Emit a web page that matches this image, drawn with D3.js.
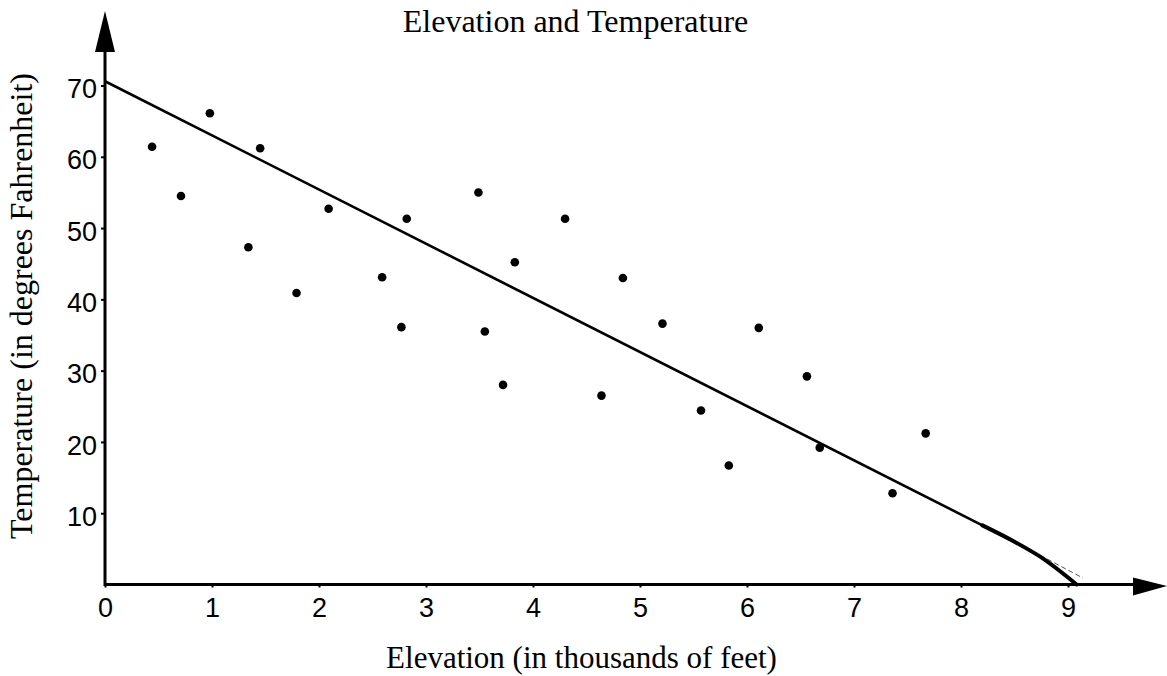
<!DOCTYPE html>
<html>
<head>
<meta charset="utf-8">
<script src="https://cdn.jsdelivr.net/npm/d3@7/dist/d3.min.js"></script>
<style>
  html, body { margin: 0; padding: 0; background: #fff; }
  svg { display: block; }
</style>
</head>
<body>
<svg id="chart" width="1167" height="676"></svg>
<script>
// ---- data ----
const elevation   = [0.44, 0.71, 0.98, 1.34, 1.45, 1.79, 2.09, 2.59, 2.77, 2.82, 3.49, 3.55, 3.72, 3.83, 4.30, 4.64, 4.84, 5.21, 5.57, 5.83, 6.11, 6.56, 6.68, 7.36, 7.67];
const temperature = [61.4, 54.5, 66.1, 47.3, 61.2, 40.9, 52.7, 43.1, 36.1, 51.3, 55.0, 35.5, 28.0, 45.2, 51.3, 26.5, 43.0, 36.6, 24.4, 16.7, 36.0, 29.2, 19.2, 12.8, 21.2];
// best-fit line as drawn (straight part, hand-drawn bend to axis, faint dashed extension)
const fitX  = [0, 8.2];
const fitY  = [70.6, 8.3];
const bendX = [8.2, 8.5, 8.74, 9.08];
const bendY = [8.3, 6.0, 3.9, 0];
const dashX = [8.74, 9.14];
const dashY = [4.1, 0.9];
const xTicks = [0, 1, 2, 3, 4, 5, 6, 7, 8, 9];
const yTicks = [10, 20, 30, 40, 50, 60, 70];
const title  = "Elevation and Temperature";
const xTitle = "Elevation (in thousands of feet)";
const yTitle = "Temperature (in degrees Fahrenheit)";

// ---- layout ----
const svg = d3.select("#chart");
const x = d3.scaleLinear().domain([0, 9]).range([105, 1068]);
const y = d3.scaleLinear().domain([0, 70]).range([584.5, 85.5]);
const serif = "'Liberation Serif', 'Times New Roman', serif";
const sans  = "'Liberation Sans', Arial, sans-serif";

// title
svg.append("text").attr("x", 575.5).attr("y", 32)
  .attr("text-anchor", "middle").attr("font-family", serif).attr("font-size", 32)
  .attr("fill", "#000").text(title);

// axes lines with arrows
const axisColor = "#000";
svg.append("line").attr("x1", x(0)).attr("y1", y(0) + 1.5).attr("x2", x(0)).attr("y2", 50)
  .attr("stroke", axisColor).attr("stroke-width", 3);
svg.append("path").attr("d", `M${x(0)},11 L${x(0)-10},52 L${x(0)+10},52 Z`).attr("fill", axisColor);
svg.append("line").attr("x1", x(0)).attr("y1", y(0)).attr("x2", 1135).attr("y2", y(0))
  .attr("stroke", axisColor).attr("stroke-width", 3);
svg.append("path").attr("d", `M1167,${y(0)+1.5} L1133,${y(0)-7} L1133,${y(0)+11} Z`).attr("fill", axisColor);

// x axis ticks & labels
const xAxis = d3.axisBottom(x).tickValues(xTicks).tickSize(3).tickPadding(10).tickFormat(d3.format("d"));
const gx = svg.append("g").attr("transform", `translate(0,${y(0)})`).call(xAxis);
gx.select(".domain").remove();
gx.selectAll(".tick line").attr("stroke", "#000").attr("stroke-width", 2);
gx.selectAll(".tick text").attr("font-family", sans).attr("font-size", 27).attr("fill", "#000");

// y axis ticks & labels
const yAxis = d3.axisLeft(y).tickValues(yTicks).tickSize(4).tickPadding(4).tickFormat(d3.format("d"));
const gy = svg.append("g").attr("transform", `translate(${x(0)},0)`).call(yAxis);
gy.select(".domain").remove();
gy.selectAll(".tick line").attr("stroke", "#000").attr("stroke-width", 2);
gy.selectAll(".tick text").attr("font-family", sans).attr("font-size", 27).attr("fill", "#000").attr("dy", "0.45em");

// axis titles
svg.append("text").attr("x", 581.5).attr("y", 668)
  .attr("text-anchor", "middle").attr("font-family", serif).attr("font-size", 31)
  .attr("fill", "#000").text(xTitle);
svg.append("text").attr("transform", "translate(32,306) rotate(-90)")
  .attr("text-anchor", "middle").attr("font-family", serif).attr("font-size", 32)
  .attr("fill", "#000").text(yTitle);

// fit line
const line = d3.line().x(d => x(d[0])).y(d => y(d[1]));
svg.append("path").datum(d3.zip(dashX, dashY)).attr("d", line)
  .attr("fill", "none").attr("stroke", "#555").attr("stroke-width", 1).attr("stroke-dasharray", "5,3");
svg.append("path").datum(d3.zip(fitX, fitY)).attr("d", line)
  .attr("fill", "none").attr("stroke", "#000").attr("stroke-width", 2.6);
svg.append("path").datum(d3.zip(bendX, bendY)).attr("d", line.curve(d3.curveMonotoneX))
  .attr("fill", "none").attr("stroke", "#000").attr("stroke-width", 4).attr("stroke-linecap", "round");

// points
svg.append("g").selectAll("circle").data(d3.zip(elevation, temperature)).join("circle")
  .attr("cx", d => x(d[0])).attr("cy", d => y(d[1])).attr("r", 4.3).attr("fill", "#000");
</script>
</body>
</html>
